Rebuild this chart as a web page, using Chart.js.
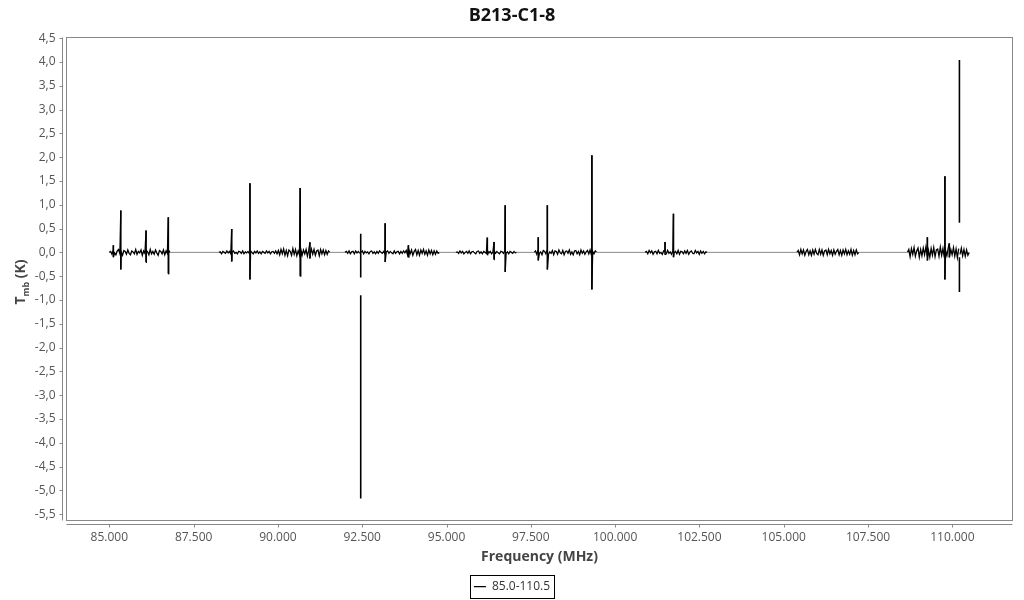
<!DOCTYPE html>
<html>
<head>
<meta charset="utf-8">
<script src="https://cdn.jsdelivr.net/npm/chart.js@4.4.0/dist/chart.umd.min.js"></script>
<style>
    html, body { margin: 0; padding: 0; background: #fff; }
</style>
</head>
<body>
<canvas id="spectre" width="1024" height="600"></canvas>
<script>

/*  Données  */

const titre = "B213-C1-8";
const legende = "85.0-110.5";

// bandes observées (MHz)
const segStart = [85.00, 88.25, 91.99, 95.28, 97.60, 100.89, 105.39, 108.67];
const segEnd   = [86.80, 91.54, 94.79, 97.08, 99.45, 102.73, 107.23, 110.50];

// bruit de chaque bande (K)
const noise1 = [0.02,-0.04,0.05,-0.01,-0.05,0.03,0.06,-0.03,0.01,-0.06,0.04,0.02,-0.04,0.05,-0.02,-0.05,0.03,0.01,-0.03,0.06,-0.04,0.02,-0.01,0.05,-0.06,0.03,-0.02,0.04,0.01,-0.05,0.06,-0.03,0.02,-0.04,0.05,-0.01,-0.06,0.04,0.02,-0.03,0.05,-0.05,0.03,-0.02,0.04];
const noise2 = [0.01,-0.03,0.02,0.00,-0.02,0.03,-0.01,0.02,-0.03,0.01,0.03,-0.02,0.00,-0.03,0.02,0.01,-0.02,0.03,-0.03,0.01,-0.01,0.02,-0.02,0.03,0.00,-0.03,0.02,-0.01,0.03,-0.02,0.01,-0.03,0.02,0.00,-0.02,0.03,-0.01,0.02,-0.03,0.01,0.02,-0.02,0.03,-0.03,0.04,
                -0.05,0.06,-0.03,0.07,-0.06,0.04,-0.07,0.05,0.02,-0.06,0.08,-0.04,0.06,-0.07,0.03,-0.05,0.07,-0.06,0.05,-0.03,0.06,-0.08,0.04,-0.05,0.07,-0.04,0.06,-0.06,0.03,0.05,-0.07,0.06,-0.03,0.05,-0.05,0.04,-0.04,0.03];
const noise3 = [0.02,-0.02,0.03,-0.03,0.01,0.02,-0.03,0.03,-0.01,0.02,-0.02,0.00,0.03,-0.03,0.02,-0.01,0.01,-0.03,0.02,0.03,-0.02,0.01,-0.03,0.02,-0.02,0.03,0.00,-0.02,0.02,-0.03,0.01,0.03,-0.02,0.02,-0.01,-0.03,0.03,-0.02,0.01,0.02,-0.03,0.02,-0.02,0.03,-0.01,
                0.04,-0.05,0.06,-0.03,0.05,-0.06,0.02,0.06,-0.05,0.04,-0.06,0.05,-0.02,0.06,-0.04,0.03,-0.06,0.05,-0.03,0.04,-0.05,0.03,-0.04,0.03,-0.02];
const noise4 = [0.01,-0.02,0.03,-0.01,0.02,-0.03,0.00,0.02,-0.02,0.03,-0.03,0.01,0.02,-0.01,-0.03,0.02,0.03,-0.02,0.01,-0.03,0.02,0.00,-0.02,0.03,-0.01,0.02,-0.03,0.01,0.03,-0.02,0.02,-0.01,-0.03,0.02,0.01,-0.02,0.03,-0.02,0.01,-0.03,0.02,0.00,-0.02,0.02,-0.01];
const noise5 = [0.03,-0.04,0.05,-0.02,0.01,-0.05,0.04,0.02,-0.03,0.05,-0.04,0.01,-0.02,0.04,-0.05,0.03,0.02,-0.04,0.05,-0.01,-0.03,0.04,-0.05,0.02,0.03,-0.02,0.05,-0.04,0.01,-0.05,0.03,0.04,-0.03,0.02,-0.05,0.05,-0.02,0.03,-0.04,0.01,0.04,-0.03,0.05,-0.05,0.02,-0.03,0.03];
const noise6 = [0.02,-0.03,0.04,-0.01,0.03,-0.04,0.01,0.02,-0.03,0.04,-0.02,0.00,-0.04,0.03,0.02,-0.03,0.04,-0.02,0.01,-0.04,0.03,-0.01,0.02,-0.03,0.04,-0.04,0.02,0.01,-0.03,0.03,-0.02,0.04,-0.04,0.01,0.03,-0.02,-0.03,0.04,-0.01,0.02,-0.04,0.03,-0.02,0.02,-0.03,0.01];
const noise7 = [0.04,-0.05,0.06,-0.03,0.05,-0.06,0.02,0.06,-0.05,0.03,-0.06,0.05,-0.04,0.06,-0.02,-0.05,0.06,-0.04,0.05,-0.06,0.03,0.05,-0.05,0.06,-0.03,0.04,-0.06,0.05,-0.04,0.02,0.06,-0.05,0.04,-0.06,0.05,-0.03,0.06,-0.05,0.03,-0.04,0.06,-0.06,0.04,-0.05,0.05,-0.03];
const noise8 = [0.06,-0.09,0.08,-0.04,0.10,-0.08,0.03,0.09,-0.10,0.06,-0.07,0.09,-0.05,0.11,-0.08,0.04,-0.10,0.08,-0.06,0.10,-0.09,0.05,0.07,-0.08,0.11,-0.06,0.08,-0.10,0.04,-0.07,0.09,-0.09,0.06,-0.05,0.10,-0.08,0.07,-0.11,0.08,-0.04,0.09,-0.07,0.06,-0.08,0.05,-0.06];

// raies : fréquence, sommet, creux
const raieFreq = [85.12, 85.34, 86.09, 86.75, 88.63, 89.17, 90.66, 90.95, 92.455, 93.18, 93.87, 96.21, 96.41, 96.74, 97.72, 97.99, 99.31, 101.48, 101.73, 109.26, 109.78, 109.91, 110.21];
const raieHaut = [0.15, 0.88, 0.46, 0.74, 0.49, 1.45, 1.35, 0.21, 0.39, 0.61, 0.15, 0.31, 0.22, 0.99, 0.32, 0.99, 2.04, 0.22, 0.81, 0.32, 1.60, 0.19, 4.04];
const raieBas  = [-0.10, -0.36, -0.21, -0.45, -0.19, -0.57, -0.50, -0.13, -0.53, -0.20, -0.10, -0.05, -0.15, -0.41, -0.17, -0.36, -0.78, -0.05, -0.10, -0.17, -0.57, -0.10, 0.62];

// morceaux séparés par un trou
const trouFreq = [92.455, 110.21];
const trouHaut = [-0.90, -0.10];
const trouBas  = [-5.17, -0.83];

// axes
const xTicks = [85, 87.5, 90, 92.5, 95, 97.5, 100, 102.5, 105, 107.5, 110];
const yTicks = [4.5, 4, 3.5, 3, 2.5, 2, 1.5, 1, 0.5, 0, -0.5, -1, -1.5, -2, -2.5, -3, -3.5, -4, -4.5, -5, -5.5];
const xMin = 83.73, xMax = 111.784;
const yMin = -5.633, yMax = 4.514;


/*  Construction de la série  */

const noises = [noise1, noise2, noise3, noise4, noise5, noise6, noise7, noise8];
let points = [];

noises.forEach((vals, k) => {
    let s = segStart[k], e = segEnd[k];
    let pas = (e - s) / (vals.length + 1);
    points.push({x: s, y: 0});
    vals.forEach((v, i) => points.push({x: s + (i + 1) * pas, y: v}));
    points.push({x: e, y: 0});
});

raieFreq.forEach((f, i) => {
    let t = trouFreq.indexOf(f);
    if (t >= 0) {
        points.push({x: f, y: null}, {x: f, y: raieHaut[i]}, {x: f, y: raieBas[i]},
                    {x: f, y: null}, {x: f, y: trouHaut[t]}, {x: f, y: trouBas[t]}, {x: f, y: null});
    } else {
        points.push({x: f, y: raieHaut[i]}, {x: f, y: raieBas[i]});
    }
});

points.sort((a, b) => a.x - b.x);


/*  Cadre, axes décalés, titre Y, boîte de légende  */

const cadre = {
    id: "cadre",
    afterDraw(chart) {
        const {ctx, chartArea: a, scales: {x, y}} = chart;
        let L = Math.floor(a.left) + 0.5, R = Math.floor(a.right) + 0.5;
        let T = Math.floor(a.top) + 0.5, B = Math.floor(a.bottom) + 0.5;

        ctx.save();
        ctx.lineWidth = 1;
        ctx.strokeStyle = "#888";
        ctx.strokeRect(L, T, R - L, B - T);

        ctx.beginPath();
        ctx.moveTo(L - 4, T); ctx.lineTo(L - 4, B);
        yTicks.forEach(v => {
            let py = Math.round(y.getPixelForValue(v)) + 0.5;
            ctx.moveTo(L - 4, py); ctx.lineTo(L - 7, py);
        });
        ctx.moveTo(L, B + 4); ctx.lineTo(R, B + 4);
        xTicks.forEach(v => {
            let px = Math.round(x.getPixelForValue(v)) + 0.5;
            ctx.moveTo(px, B + 4); ctx.lineTo(px, B + 7);
        });
        ctx.stroke();

        // titre de l'axe Y avec indice
        ctx.translate(25, 282);
        ctx.rotate(-Math.PI / 2);
        ctx.fillStyle = "#444";
        ctx.textBaseline = "alphabetic";
        const big = 'bold 14px "Open Sans"', small = 'bold 9px "Open Sans"';
        ctx.font = big;
        let wT = ctx.measureText("T").width, wK = ctx.measureText(" (K)").width;
        ctx.font = small;
        let wM = ctx.measureText("mb").width;
        let x0 = -(wT + wM + wK) / 2;
        ctx.font = big;  ctx.fillText("T", x0, 0);
        ctx.font = small; ctx.fillText("mb", x0 + wT, 4);
        ctx.font = big;  ctx.fillText(" (K)", x0 + wT + wM, 0);
        ctx.restore();

        // boîte autour de la légende
        let h = chart.legend.legendHitBoxes[0];
        if (h) {
            ctx.save();
            ctx.strokeStyle = "#000";
            ctx.lineWidth = 1;
            ctx.strokeRect(Math.round(h.left - 4) + 0.5, Math.round(h.top - 6) + 0.5,
                           Math.round(h.width + 8), Math.round(h.height + 11));
            ctx.restore();
        }
    }
};


/*  Graphique  */

Chart.defaults.font.family = '"Open Sans", sans-serif';

// liaison à zéro entre les bandes : trait gris fin ; raies : trait plus épais
const estLien = c => c.p0.parsed.y === 0 && c.p1.parsed.y === 0;
const estRaie = c => c.p0.parsed.x === c.p1.parsed.x;
const couleurSeg = c => estLien(c) ? "#888" : undefined;
const largeurSeg = c => estRaie(c) ? 1.6 : (estLien(c) ? 1 : undefined);

new Chart(document.getElementById("spectre"), {
    type: "line",
    data: {
        datasets: [{
            label: legende,
            data: points,
            borderColor: "#000",
            borderWidth: 1.3,
            pointRadius: 0,
            tension: 0,
            spanGaps: false,
            segment: { borderColor: couleurSeg, borderWidth: largeurSeg }
        }]
    },
    options: {
        responsive: false,
        animation: false,
        devicePixelRatio: 1,
        layout: { padding: { left: 11.5, right: 11.5, top: 0, bottom: -2.7 } },
        plugins: {
            title: {
                display: true,
                text: titre,
                color: "#111",
                font: { size: 18, weight: "bold" },
                padding: { top: 5, bottom: 10.9 }
            },
            legend: {
                position: "bottom",
                labels: {
                    usePointStyle: true,
                    pointStyle: "line",
                    pointStyleWidth: 12,
                    boxHeight: 12,
                    padding: 0,
                    color: "#333",
                    font: { size: 12 }
                }
            },
            tooltip: { enabled: false }
        },
        scales: {
            x: {
                type: "linear",
                min: xMin,
                max: xMax,
                grid: { display: false, drawTicks: false },
                border: { display: false },
                afterBuildTicks: s => { s.ticks = xTicks.map(v => ({value: v})); },
                afterFit: s => { s.height = 60.2; },
                ticks: {
                    autoSkip: false,
                    maxRotation: 0,
                    padding: 10,
                    color: "#555",
                    font: { size: 12 },
                    callback: v => v.toFixed(3)
                },
                title: {
                    display: true,
                    text: "Frequency (MHz)",
                    color: "#444",
                    font: { size: 14, weight: "bold" },
                    padding: { top: 0, bottom: 15.6 }
                }
            },
            y: {
                type: "linear",
                min: yMin,
                max: yMax,
                grid: { display: false, drawTicks: false },
                border: { display: false },
                afterBuildTicks: s => { s.ticks = yTicks.map(v => ({value: v})); },
                afterFit: s => { s.width = 55; },
                ticks: {
                    autoSkip: false,
                    padding: 11,
                    color: "#555",
                    font: { size: 12 },
                    callback: v => v.toFixed(1).replace(".", ",")
                }
            }
        }
    },
    plugins: [cadre]
});

</script>
</body>
</html>
